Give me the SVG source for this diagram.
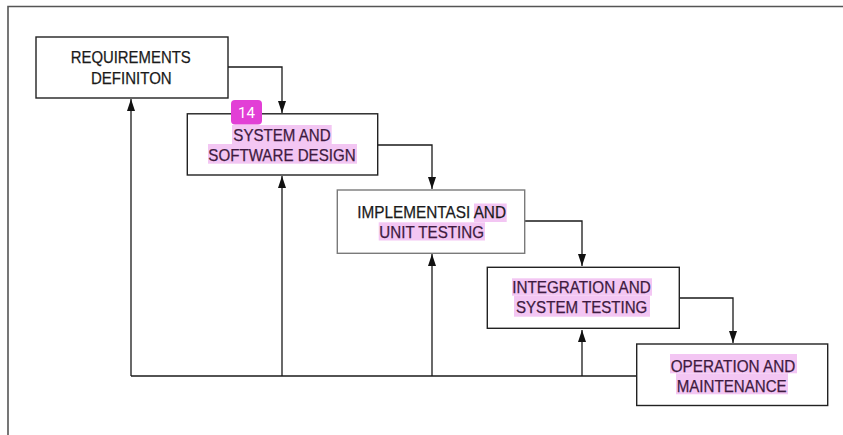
<svg xmlns="http://www.w3.org/2000/svg" width="843" height="435" viewBox="0 0 843 435">
<style>
.box{fill:#fff;stroke:#222;stroke-width:1.4}
.lbl{font-family:"Liberation Sans",Arial,sans-serif;font-size:16.5px;fill:#1a1a1a;stroke:#1a1a1a;stroke-width:0.25}
.hl{fill:#f3c6f3}
.ht{fill:#3e1a40;stroke:#3e1a40}
.con{fill:none;stroke:#1a1a1a;stroke-width:1.3}
</style>
<defs>
<marker id="ah" markerUnits="userSpaceOnUse" markerWidth="12" markerHeight="10" viewBox="0 0 12 10" refX="12" refY="5" orient="auto">
<path d="M0,1 L12,5 L0,9 Z" fill="#111"/>
</marker>
</defs>
<rect width="843" height="435" fill="#fff"/>
<path d="M8,435 V6.5 H843" fill="none" stroke="#555" stroke-width="1.6"/>

<g id="connectors">
<path class="con" d="M228,67 H282 V113" marker-end="url(#ah)"/>
<path class="con" d="M378,145 H432 V189" marker-end="url(#ah)"/>
<path class="con" d="M525,221 H582 V266" marker-end="url(#ah)"/>
<path class="con" d="M679,298 H733 V343" marker-end="url(#ah)"/>
<path class="con" d="M636,376 H131"/>
<path class="con" d="M131,376 V99" marker-end="url(#ah)"/>
<path class="con" d="M282,376 V176" marker-end="url(#ah)"/>
<path class="con" d="M432,376 V254" marker-end="url(#ah)"/>
<path class="con" d="M582,376 V330" marker-end="url(#ah)"/>
</g>

<g id="requirements">
<rect class="box" x="36" y="37" width="192" height="61"/>
<text class="lbl" x="70.7" y="63.3" textLength="120" lengthAdjust="spacingAndGlyphs">REQUIREMENTS</text>
<text class="lbl" x="91" y="84.3" textLength="80.7" lengthAdjust="spacingAndGlyphs">DEFINITON</text>
</g>

<g id="system-design">
<rect class="box" x="187.3" y="113.8" width="190.4" height="61.2"/>
<rect class="hl" x="232" y="125" width="99.7" height="19"/>
<rect class="hl" x="208" y="144" width="149" height="19.7"/>
<text class="lbl ht" x="233.3" y="141" textLength="97.4" lengthAdjust="spacingAndGlyphs">SYSTEM AND</text>
<text class="lbl ht" x="208.3" y="160.5" textLength="147.4" lengthAdjust="spacingAndGlyphs">SOFTWARE DESIGN</text>
</g>

<g id="badge">
<rect x="231" y="100" width="31" height="24.5" rx="4" fill="#e23fd6"/>
<text x="246.5" y="117.7" text-anchor="middle" font-family="Roboto,'Liberation Sans',sans-serif" font-size="15" fill="#fff">14</text>
</g>

<g id="implementasi">
<rect class="box" x="337.3" y="190" width="187.4" height="63.3" style="stroke:#7a7a7a"/>
<rect class="hl" x="474" y="203.5" width="32.7" height="18.5"/>
<rect class="hl" x="378.7" y="222.3" width="106.3" height="18.2"/>
<text class="lbl" x="357.3" y="217.5" textLength="148.7" lengthAdjust="spacingAndGlyphs">IMPLEMENTASI AND</text>
<text class="lbl ht" x="379.3" y="237.5" textLength="104.7" lengthAdjust="spacingAndGlyphs">UNIT TESTING</text>
</g>

<g id="integration">
<rect class="box" x="487.3" y="267.3" width="192" height="61"/>
<rect class="hl" x="512" y="278.3" width="140" height="17.4"/>
<rect class="hl" x="514" y="295.7" width="136" height="21"/>
<text class="lbl ht" x="512.3" y="293.3" textLength="138.4" lengthAdjust="spacingAndGlyphs">INTEGRATION AND</text>
<text class="lbl ht" x="516" y="313.3" textLength="131.3" lengthAdjust="spacingAndGlyphs">SYSTEM TESTING</text>
</g>

<g id="operation">
<rect class="box" x="636.7" y="344" width="191" height="61.5"/>
<rect class="hl" x="670" y="354" width="127" height="19.3"/>
<rect class="hl" x="676" y="373.3" width="112" height="21"/>
<text class="lbl ht" x="670.7" y="371.7" textLength="124.6" lengthAdjust="spacingAndGlyphs">OPERATION AND</text>
<text class="lbl ht" x="676.7" y="391.7" textLength="110" lengthAdjust="spacingAndGlyphs">MAINTENANCE</text>
</g>
</svg>
